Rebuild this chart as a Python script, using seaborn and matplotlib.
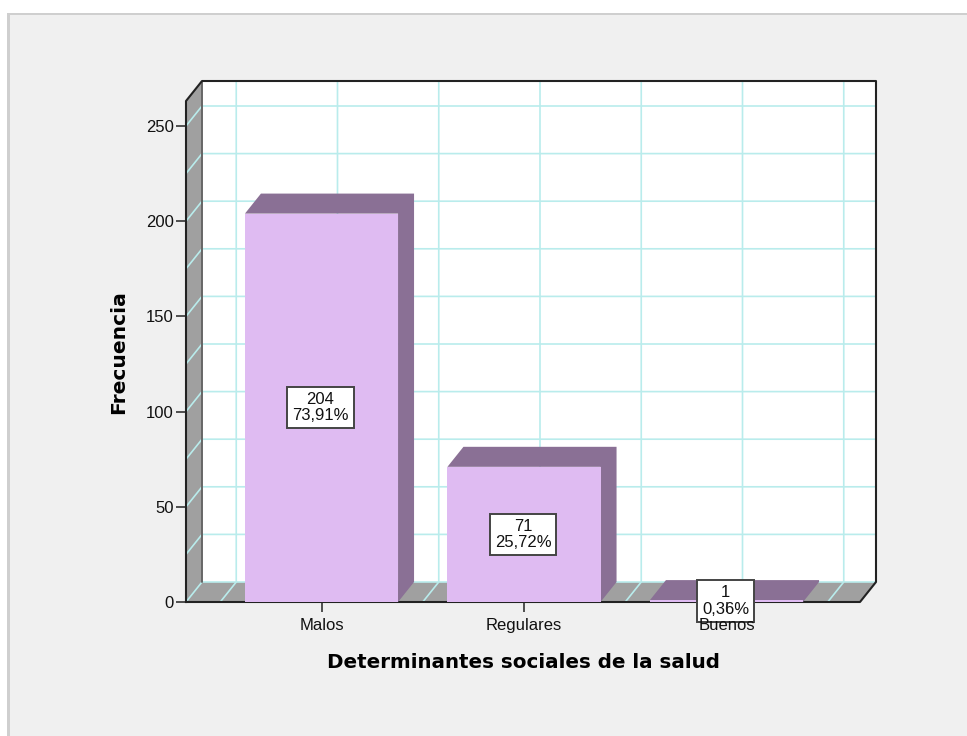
import numpy as np
import pandas as pd
import matplotlib
matplotlib.use("Agg")
import matplotlib.pyplot as plt
from matplotlib.patches import Rectangle
import seaborn as sns

categorias = ["Malos", "Regulares", "Buenos"]
frecuencias = [204, 71, 1]
porcentajes = ["73,91%", "25,72%", "0,36%"]
marcas_y = [0, 50, 100, 150, 200, 250]

W, H = 967, 736
COLOR_PANEL = "#f0f0f0"
COLOR_BARRA = "#dfbbf2"
COLOR_SOMBRA = "#8a7095"
COLOR_PARED = "#a0a0a0"
COLOR_REJILLA = "#b9ecec"
COLOR_MARCO = "#222222"

sns.set_theme(style="white")
plt.rcParams["font.family"] = ["Liberation Sans", "DejaVu Sans"]

fig = plt.figure(figsize=(W / 100, H / 100), dpi=100, facecolor="white")

# Grey panel behind the chart, with its light border on the top and left
fig.patches.append(Rectangle((7 / W, 0), 1, 1 - 13 / H, transform=fig.transFigure,
                             fc="#cfcfcf", ec="none", zorder=-4))
fig.patches.append(Rectangle((10 / W, 0), 1, 1 - 15 / H, transform=fig.transFigure,
                             fc=COLOR_PANEL, ec="none", zorder=-3))

# Axes span the front plane plus the depth of the oblique box
izq, der, arriba, abajo = 186, 876, 81, 602
ax = fig.add_axes([izq / W, 1 - abajo / H, (der - izq) / W, (abajo - arriba) / H])
ax.patch.set_alpha(0)

datos = pd.DataFrame({"categoria": categorias, "frecuencia": frecuencias})
sns.barplot(data=datos, x="categoria", y="frecuencia", color=COLOR_BARRA, saturation=1,
            width=0.756, linewidth=0, ax=ax, zorder=2)

px_x, px_y = 202.5, 1.904          # pixels per category and per count
dx, dy = 16 / px_x, 20 / px_y      # oblique depth of the box
x0 = (186 - 321.5) / px_x
x1 = x0 + (860 - 186) / px_x
techo = (602 - 101) / px_y

# Side wall, floor and back wall
ax.fill([x0, x0 + dx, x0 + dx, x0], [0, dy, techo + dy, techo], fc=COLOR_PARED, ec="none", zorder=0.5)
ax.fill([x0, x1, x1 + dx, x0 + dx], [0, 0, dy, dy], fc=COLOR_PARED, ec="none", zorder=0.5)
ax.fill([x0 + dx, x1 + dx, x1 + dx, x0 + dx], [dy, dy, techo + dy, techo + dy], fc="white", ec="none", zorder=0.5)

# Grid folded along the walls
estilo = dict(color=COLOR_REJILLA, lw=1.2, zorder=1, solid_capstyle="butt", clip_on=False)
for v in np.arange(0, 251, 25):
    ax.plot([x0, x0 + dx, x1 + dx], [v, v + dy, v + dy], **estilo)
for c in np.arange(-0.5, 2.51, 0.5):
    ax.plot([c, c + dx, c + dx], [0, dy, techo + dy], **estilo)

# Box outline
marco = dict(color=COLOR_MARCO, lw=1.5, zorder=1.2, clip_on=False, solid_capstyle="projecting")
ax.plot([x0, x0, x0 + dx, x1 + dx, x1 + dx, x1, x0], [0, techo, techo + dy, techo + dy, dy, 0, 0], **marco)
ax.plot([x0 + dx, x0 + dx], [dy, techo + dy], color="#666666", lw=1.4, zorder=1.1)

# Top and side faces of each bar, then its value box
for barra, n, pct in zip(list(ax.patches)[:len(frecuencias)], frecuencias, porcentajes):
    x, w, h = barra.get_x(), barra.get_width(), barra.get_height()
    ax.fill([x, x + dx, x + w + dx, x + w + dx, x + w, x + w],
            [h, h + dy, h + dy, dy, 0, h], fc=COLOR_SOMBRA, ec="none", zorder=1.9)
    ax.text(x + w / 2 - 0.005, h / 2, f"{n}\n{pct}", ha="center", va="center", fontsize=12,
            linespacing=1.1, color="#111111", zorder=2.4,
            bbox=dict(boxstyle="square,pad=0.3", fc="white", ec="#444444", lw=1.4))

ax.set_xlim(x0, x0 + (der - izq) / px_x)
ax.set_ylim(0, (abajo - arriba) / px_y)
ax.set_axisbelow(False)
sns.despine(ax=ax, left=True, bottom=True)

ax.set_yticks(marcas_y)
ax.tick_params(axis="both", length=7.2, width=1.1, color=COLOR_MARCO, labelsize=12,
               labelcolor="#111111", left=True, bottom=True, pad=1.5)
ax.tick_params(axis="x", pad=4)

ax.set_xlabel("Determinantes sociales de la salud", fontsize=14.3, fontweight="bold",
              color="black", family="DejaVu Sans")
ax.set_ylabel("Frecuencia", fontsize=14.6, fontweight="bold", color="black", family="DejaVu Sans")
ax.xaxis.set_label_coords((523.5 - izq) / (der - izq), (abajo - 662) / (abajo - arriba), ax.transAxes)
ax.xaxis.label.set_va("center")
ax.yaxis.set_label_coords((119 - izq) / (der - izq), (abajo - 352) / (abajo - arriba), ax.transAxes)
ax.yaxis.label.set_va("center")

fig.savefig("out.png", dpi=100, facecolor=fig.get_facecolor())
